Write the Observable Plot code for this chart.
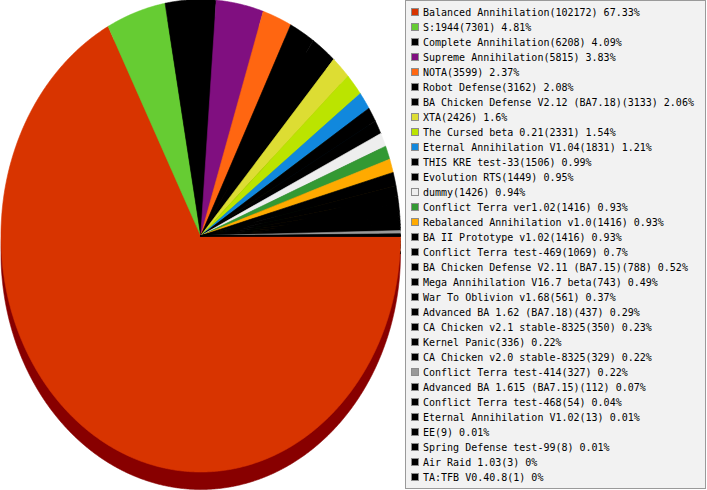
<!DOCTYPE html>
<html>
<head>
<meta charset="utf-8">
<script src="https://cdn.jsdelivr.net/npm/d3@7"></script>
<script src="https://cdn.jsdelivr.net/npm/@observablehq/plot@0.6"></script>
<style>
  html, body { margin: 0; padding: 0; background: #ffffff; }
  #wrap { position: relative; width: 707px; height: 490px; overflow: hidden; }
  #chart { position: absolute; left: 0; top: 0; }
  #legend {
    position: absolute; left: 405px; top: 0px; width: 299px; height: 487px;
    background: #f2f2f2; border: 1px solid #9a9a9a;
    font-family: "DejaVu Sans Mono", monospace; font-size: 10px; color: #000;
    box-sizing: content-box;
  }
  .row { position: absolute; left: 5px; height: 15px; line-height: 15px; white-space: nowrap; }
  .sw { display: inline-block; width: 6px; height: 6px; border: 1px solid #8c8c8c; vertical-align: middle; margin-right: 4px; position: relative; top: -1px; }
</style>
</head>
<body>
<div id="wrap">
  <div id="chart"></div>
  <div id="legend"></div>
</div>
<script>
const names = [
  "Balanced Annihilation", "S:1944", "Complete Annihilation", "Supreme Annihilation",
  "NOTA", "Robot Defense", "BA Chicken Defense V2.12 (BA7.18)", "XTA",
  "The Cursed beta 0.21", "Eternal Annihilation V1.04", "THIS KRE test-33", "Evolution RTS",
  "dummy", "Conflict Terra ver1.02", "Rebalanced Annihilation v1.0", "BA II Prototype v1.02",
  "Conflict Terra test-469", "BA Chicken Defense V2.11 (BA7.15)", "Mega Annihilation V16.7 beta", "War To Oblivion v1.68",
  "Advanced BA 1.62 (BA7.18)", "CA Chicken v2.1 stable-8325", "Kernel Panic", "CA Chicken v2.0 stable-8325",
  "Conflict Terra test-414", "Advanced BA 1.615 (BA7.15)", "Conflict Terra test-468", "Eternal Annihilation V1.02",
  "EE", "Spring Defense test-99", "Air Raid 1.03", "TA:TFB V0.40.8"
];
const counts = [
  102172, 7301, 6208, 5815,
  3599, 3162, 3133, 2426,
  2331, 1831, 1506, 1449,
  1426, 1416, 1416, 1416,
  1069, 788, 743, 561,
  437, 350, 336, 329,
  327, 112, 54, 13,
  9, 8, 3, 1
];
const percents = [
  "67.33", "4.81", "4.09", "3.83",
  "2.37", "2.08", "2.06", "1.6",
  "1.54", "1.21", "0.99", "0.95",
  "0.94", "0.93", "0.93", "0.93",
  "0.7", "0.52", "0.49", "0.37",
  "0.29", "0.23", "0.22", "0.22",
  "0.22", "0.07", "0.04", "0.01",
  "0.01", "0.01", "0", "0"
];
const colors = [
  "#d83400", "#66cc33", "#000000", "#800f80",
  "#ff6611", "#000000", "#000000", "#dddd33",
  "#bbe400", "#1188dd", "#000000", "#000000",
  "#eeeeee", "#339933", "#ffaa00", "#000000",
  "#000000", "#000000", "#000000", "#000000",
  "#000000", "#000000", "#000000", "#000000",
  "#999999", "#000000", "#000000", "#000000",
  "#000000", "#000000", "#000000", "#000000"
];
const sideColors = ["#880000"];

// Build slice polygons in unit-circle data space (start at 3 o'clock, clockwise)
const arcs = d3.pie().sort(null).startAngle(Math.PI / 2).endAngle(Math.PI / 2 + 2 * Math.PI)(counts);
const rows = [];
arcs.forEach((a, i) => {
  const fill = colors[i];
  const side = sideColors[i] || d3.color(fill).darker(1.2).formatHex();
  rows.push({key: i, x: 0, y: 0, fill, side});
  const n = Math.max(2, Math.ceil((a.endAngle - a.startAngle) / (Math.PI / 720)));
  for (let k = 0; k <= n; k++) {
    const t = a.startAngle + (a.endAngle - a.startAngle) * k / n;
    rows.push({key: i, x: Math.sin(t), y: Math.cos(t), fill, side});
  }
});

const chart = Plot.plot({
  width: 707,
  height: 490,
  margin: 0,
  x: {domain: [-1, 1], range: [0.5, 400], axis: null},
  y: {domain: [-1, 1], range: [471.5, -1], axis: null},
  color: {type: "identity"},
  marks: [
    Plot.line(rows, {x: "x", y: "y", z: "key", fill: "side", stroke: "side", strokeWidth: 0.6, curve: "linear-closed", dy: 17.5}),
    Plot.line(rows, {x: "x", y: "y", z: "key", fill: "fill", stroke: "fill", strokeWidth: 0.6, curve: "linear-closed"})
  ]
});
document.getElementById("chart").appendChild(chart);

const legend = document.getElementById("legend");
names.forEach((name, i) => {
  const r = document.createElement("div");
  r.className = "row";
  r.style.top = (4 + i * 15) + "px";
  const sw = document.createElement("span");
  sw.className = "sw";
  sw.style.background = colors[i];
  r.appendChild(sw);
  r.appendChild(document.createTextNode(`${name}(${counts[i]}) ${percents[i]}%`));
  legend.appendChild(r);
});
</script>
</body>
</html>
